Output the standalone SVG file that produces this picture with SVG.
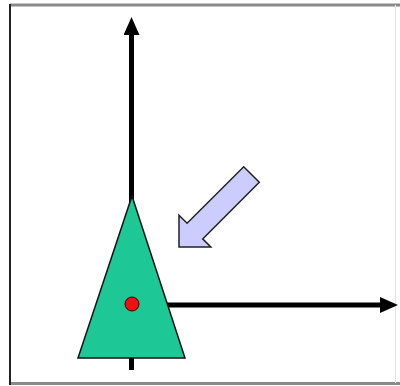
<svg xmlns="http://www.w3.org/2000/svg" width="400" height="386" viewBox="0 0 400 386">
  <defs>
    <marker id="ah" markerUnits="userSpaceOnUse" markerWidth="18" markerHeight="16" viewBox="0 0 18 16" refX="4" refY="8" orient="auto">
      <path d="M0,0 L18,8 L0,16 Z" fill="#000"/>
    </marker>
  </defs>
  <style>
    .axis { stroke: #000; stroke-width: 5; fill: none; }
    .frame { fill: none; }
  </style>
  <rect width="400" height="386" fill="#fff"/>
  <g id="frame">
    <line x1="10" y1="5" x2="400" y2="5" stroke="#8a8a8a" stroke-width="3"/>
    <line x1="10" y1="383.5" x2="400" y2="383.5" stroke="#8a8a8a" stroke-width="3"/>
    <line x1="10" y1="4" x2="10" y2="385" stroke="#222" stroke-width="2"/>
    <line x1="395.5" y1="5" x2="395.5" y2="383" stroke="#e6e6e6" stroke-width="1"/>
  </g>
  <g id="connectors">
    <line class="axis" x1="131.5" y1="370" x2="131.5" y2="31" marker-end="url(#ah)"/>
    <line class="axis" x1="131.5" y1="305" x2="384" y2="305" marker-end="url(#ah)"/>
  </g>
  <g id="triangle">
    <polygon points="132,196 185,358 78,358" fill="#1ec896" stroke="#111" stroke-width="1.5" stroke-linejoin="miter"/>
  </g>
  <g id="dot">
    <circle cx="132" cy="304" r="7" fill="#ee1111" stroke="#400" stroke-width="1"/>
  </g>
  <g id="block-arrow">
    <polygon points="179,247 210.8,247 202.7,238.9 259.3,182.3 243.7,166.7 187.1,223.3 179,215.2" fill="#ccccff" stroke="#222" stroke-width="1.5" stroke-linejoin="miter"/>
  </g>
</svg>
